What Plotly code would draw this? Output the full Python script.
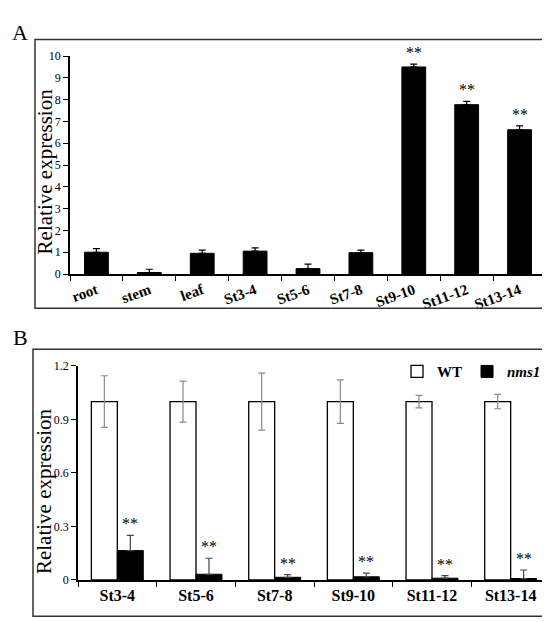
import plotly.graph_objects as go

# panel A - tissues and stages
tkanki = ['root', 'stem', 'leaf', 'St3-4', 'St5-6', 'St7-8', 'St9-10', 'St11-12', 'St13-14']
ekspr_A = [1.0, 0.07, 0.95, 1.05, 0.25, 0.98, 9.5, 7.77, 6.62]
blad_A = [0.17, 0.15, 0.15, 0.15, 0.2, 0.12, 0.13, 0.15, 0.18]
gwiazdki_A = ['', '', '', '', '', '', '**', '**', '**']

# panel B - WT vs nms1
etapy = ['St3-4', 'St5-6', 'St7-8', 'St9-10', 'St11-12', 'St13-14']
wt = [1.0, 1.0, 1.0, 1.0, 1.0, 1.0]
wt_blad = [0.145, 0.115, 0.16, 0.122, 0.035, 0.04]
nms1 = [0.165, 0.032, 0.015, 0.018, 0.01, 0.008]
nms1_blad = [0.085, 0.09, 0.015, 0.02, 0.015, 0.048]

czcionka = 'Liberation Serif'
W, H = 550, 622
szer_B = 0.33

fig = go.Figure()

fig.add_trace(go.Bar(
    x=tkanki, y=ekspr_A, width=0.45, marker=dict(color='black', line=dict(color='black', width=1)),
    error_y=dict(type='data', array=blad_A, arrayminus=[0]*len(blad_A),
                 color='black', thickness=1.2, width=3.5),
    xaxis='x', yaxis='y', showlegend=False))

fig.add_trace(go.Bar(
    x=etapy, y=wt, name='WT', width=szer_B, offset=-szer_B,
    marker=dict(color='white', line=dict(color='black', width=1.3)),
    error_y=dict(type='data', array=wt_blad, color='#8a8a8a', thickness=1.2, width=3.5),
    xaxis='x2', yaxis='y2'))
fig.add_trace(go.Bar(
    x=etapy, y=nms1, name='<i>nms1</i>', width=szer_B, offset=0,
    marker=dict(color='black', line=dict(color='black', width=1)),
    error_y=dict(type='data', array=nms1_blad, arrayminus=[0]*len(nms1_blad),
                 color='#444444', thickness=1.2, width=3.5),
    xaxis='x2', yaxis='y2'))

# gwiazdki
gw_font = dict(family=czcionka, size=16, color='black')
adnot = []
for k, v, e, s in zip(tkanki, ekspr_A, blad_A, gwiazdki_A):
    if s:
        adnot.append(dict(x=k, y=v + e, xref='x', yref='y', text=s, showarrow=False,
                          xanchor='center', yanchor='bottom', yshift=1, font=gw_font))
for k, v, e in zip(etapy, nms1, nms1_blad):
    adnot.append(dict(x=k, y=v + e, xref='x2', yref='y2', text='**', showarrow=False,
                      xshift=13, xanchor='center', yanchor='bottom', yshift=1, font=gw_font))

# litery paneli i tytuly osi y
adnot += [
    dict(x=12 / W, y=1 - 18 / H, xref='paper', yref='paper', text='A', showarrow=False,
         xanchor='center', yanchor='middle', font=dict(family=czcionka, size=22, color='black')),
    dict(x=12 / W, y=1 - 330 / H, xref='paper', yref='paper', text='B', showarrow=False,
         xanchor='center', yanchor='middle', font=dict(family=czcionka, size=22, color='black')),
    dict(x=37 / W, y=1 - 160 / H, xref='paper', yref='paper', text='Relative expression',
         textangle=-90, showarrow=False, xanchor='center', yanchor='middle',
         font=dict(family=czcionka, size=21, color='black')),
    dict(x=36 / W, y=1 - 487 / H, xref='paper', yref='paper', text='Relative expression',
         textangle=-90, showarrow=False, xanchor='center', yanchor='middle',
         font=dict(family=czcionka, size=21, color='black')),
]

# ramki paneli
ramki = [
    dict(type='rect', xref='paper', yref='paper', x0=27 / W, x1=544 / W, y0=1 - 300 / H, y1=1 - 25 / H,
         line=dict(color='#333333', width=1.5)),
    dict(type='rect', xref='paper', yref='paper', x0=25 / W, x1=545 / W, y0=1 - 615 / H, y1=1 - 342 / H,
         line=dict(color='#333333', width=1.5)),
]

os_x = dict(type='category', showline=True, linecolor='black', linewidth=1.5, ticks='outside',
            tickson='boundaries', ticklen=5, tickcolor='black', showgrid=False, zeroline=False)
os_y = dict(showline=True, linecolor='black', linewidth=1.5, ticks='outside', ticklen=5,
            tickcolor='black', showgrid=False, zeroline=False,
            tickfont=dict(family=czcionka, size=12, color='black'))

fig.update_layout(
    width=W, height=H, margin=dict(l=0, r=0, t=0, b=0),
    plot_bgcolor='white', paper_bgcolor='white',
    barmode='overlay',
    xaxis=dict(os_x, domain=[62 / W, 538 / W], anchor='y', tickangle=-20, range=[-0.5, 8.5],
               tickfont=dict(family=czcionka, size=15, color='black', weight='bold')),
    yaxis=dict(os_y, domain=[1 - 265 / H, 1 - 42 / H], anchor='x', range=[0, 10], dtick=1),
    xaxis2=dict(os_x, domain=[70 / W, 542 / W], anchor='y2', range=[-0.5, 5.5],
                tickfont=dict(family=czcionka, size=16, color='black', weight='bold')),
    yaxis2=dict(os_y, domain=[1 - 578 / H, 1 - 359 / H], anchor='x2', range=[0, 1.2],
                tickvals=[0, 0.3, 0.6, 0.9, 1.2], ticktext=['0', '0.3', '0.6', '0.9', '1.2']),
    legend=dict(orientation='h', x=538 / W, y=1 - 348 / H, xanchor='right', yanchor='top',
                font=dict(family=czcionka, size=15, color='black', weight='bold'),
                bgcolor='rgba(0,0,0,0)', itemwidth=30, tracegroupgap=0),
    annotations=adnot, shapes=ramki,
)

fig.write_html('out.html')
